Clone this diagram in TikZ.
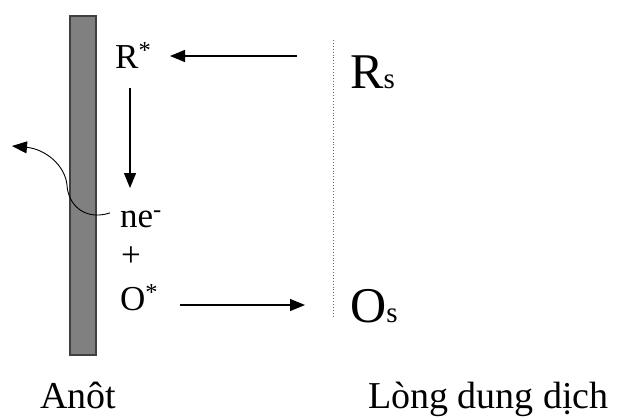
\documentclass[tikz,border=0pt]{standalone}
\usepackage{fontspec}
\setmainfont{Liberation Serif}
\usetikzlibrary{arrows.meta}
\tikzset{
  txt/.style={inner sep=0pt, anchor=base west, font=\fontsize{35}{40}\selectfont},
  big/.style={inner sep=0pt, anchor=base west, font=\fontsize{50}{54}\selectfont},
  arr/.style={line width=1.3pt, -{Triangle[length=15pt,width=12pt]}}
}
\newcommand{\smalls}{{\fontsize{29}{30}\selectfont s}}
\begin{document}
\begin{tikzpicture}[x=1pt, y=-1pt]
        \useasboundingbox (0,0) rectangle (621,416);
        % Anode bar and boundary layer
        \draw[fill=black!50, draw=black!75, line width=1.3pt] (70,16) rectangle (96,355);
        \coordinate (ltop) at (333,40);
        \coordinate (lbot) at (333,317);
        \draw[dotted, black!60, line width=0.9pt] (ltop) -- (lbot);

        % Labels
        \node (rstar) at (115,68) [txt] {R\textsuperscript{*}};
        \node (ne) at (120,227) [txt] {ne\textsuperscript{-}};
        \node (plus) at (121,266) [txt] {+};
        \node (ostar) at (120,310) [txt] {O\textsuperscript{*}};
        \node (rs) at (350,88) [big] {R\smalls};
        \node (os) at (350,322) [big] {O\smalls};
        \node (anot) at (40,408) [txt, font=\fontsize{38}{40}\selectfont] {Anôt};
        \node (long) at (368,408) [txt, font=\fontsize{38}{40}\selectfont] {Lòng dung dịch};

        % Arrows
        \coordinate (rin) at (297,56);
        \coordinate (rend) at (170,56);
        \draw[arr] (rin) -- (rend);
        \coordinate (dtop) at (130,88);
        \coordinate (dbot) at (130,188);
        \draw[arr] (dtop) -- (dbot);
        \coordinate (oout) at (180,305);
        \coordinate (oend) at (305,305);
        \draw[arr] (oout) -- (oend);
        \coordinate (etip) at (12,146);
        \draw[arr, line width=0.9pt] ([xshift=-10pt, yshift=6pt]ne.west) .. controls (85,221) and (68,205) .. (67,185)
              .. controls (65,165) and (45,149) .. (etip);
    \end{tikzpicture}
\end{document}
